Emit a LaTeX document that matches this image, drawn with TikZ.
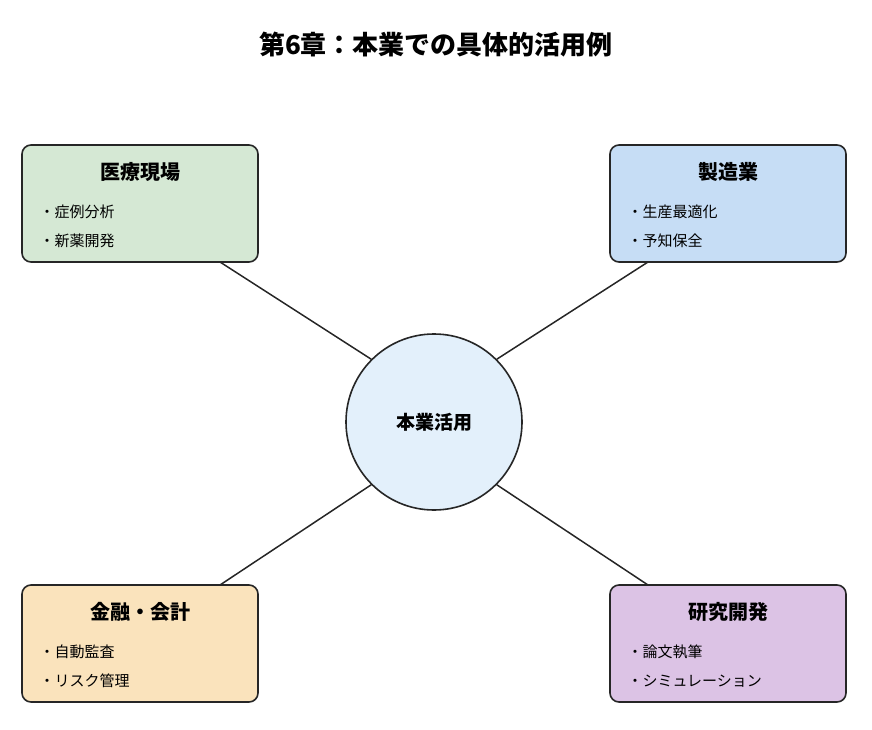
\documentclass[tikz,border=0pt]{standalone}
\usepackage{fontspec}
\setmainfont{Noto Sans CJK JP}
\begin{document}
\begin{tikzpicture}[x=1pt,y=-1pt,
 box/.style={draw=black!85,line width=1.6pt,rounded corners=9pt,minimum width=236pt,minimum height=117pt},
 ttl/.style={font=\bfseries\fontsize{20}{24}\selectfont},
 itm/.style={font=\fontsize{15}{18}\selectfont,anchor=west},
 con/.style={line width=1.5pt,black!85}]
\useasboundingbox (0,0) rectangle (872,730);
\node[font=\bfseries\fontsize{26}{30}\selectfont] (title) at (436,45) {第6章：本業での具体的活用例};
\node[circle,draw=black!85,line width=1.6pt,fill={rgb,255:red,227;green,240;blue,251},minimum size=176pt,font=\bfseries\fontsize{19}{22}\selectfont] (c) at (434,422) {本業活用};
\node[box,fill={rgb,255:red,213;green,232;blue,212}] (a) at (140,203.5) {};
\node[box,fill={rgb,255:red,198;green,221;blue,245}] (b) at (728,203.5) {};
\node[box,fill={rgb,255:red,250;green,227;blue,188}] (d) at (140,643.5) {};
\node[box,fill={rgb,255:red,220;green,195;blue,229}] (e) at (728,643.5) {};
\node[ttl] (at) at (140,172) {医療現場};
\node[itm] (a1) at (36,212) {・症例分析};
\node[itm] (a2) at (36,241) {・新薬開発};
\node[ttl] (bt) at (728,172) {製造業};
\node[itm] (b1) at (624,212) {・生産最適化};
\node[itm] (b2) at (624,241) {・予知保全};
\node[ttl] (dt) at (140,612) {金融・会計};
\node[itm] (d1) at (36,652) {・自動監査};
\node[itm] (d2) at (36,681) {・リスク管理};
\node[ttl] (et) at (728,612) {研究開発};
\node[itm] (e1) at (624,652) {・論文執筆};
\node[itm] (e2) at (624,681) {・シミュレーション};
\coordinate (pa) at (220,262);\coordinate (pb) at (648,262);
\coordinate (pd) at (220,585);\coordinate (pe) at (648,585);
\draw[con] (pa) -- (c.135);
\draw[con] (pb) -- (c.45);
\draw[con] (pd) -- (c.225);
\draw[con] (pe) -- (c.315);
\end{tikzpicture}
\end{document}
